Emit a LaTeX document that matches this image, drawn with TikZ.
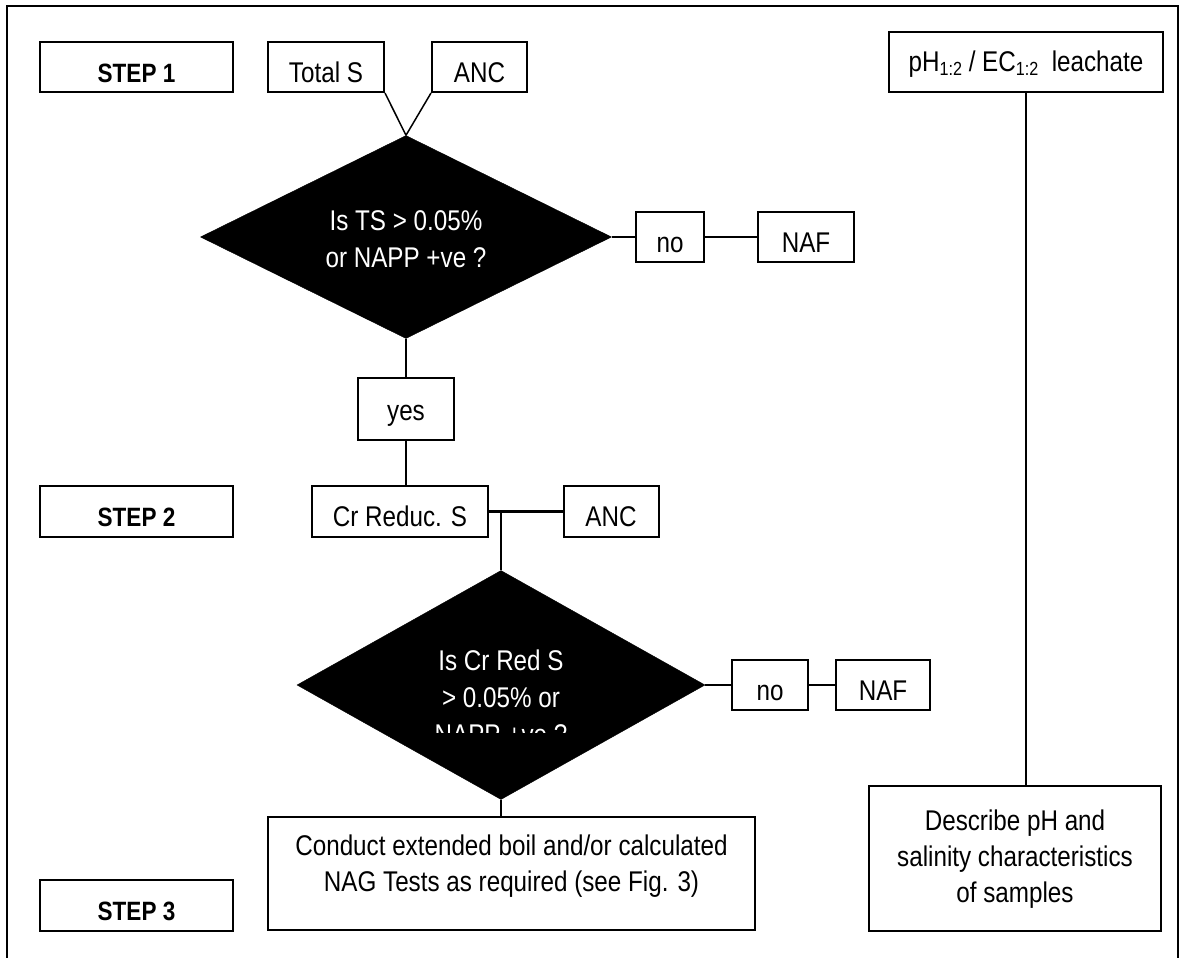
\documentclass[tikz,border=0pt]{standalone}
\usepackage{fontspec}
\setmainfont{Liberation Sans}[FakeStretch=0.85]
\usetikzlibrary{shapes.geometric}
\begin{document}
\begin{tikzpicture}[x=1pt,y=-1pt,
  box/.style={draw, line width=2pt, inner sep=0pt, text height=30pt, text depth=0pt,
    font=\fontsize{28.5}{30}\selectfont},
  stepbox/.style={box, font=\bfseries\fontsize{26.5}{30}\selectfont},
  tallbox/.style={draw, line width=2pt, inner sep=0pt},
  dia/.style={diamond, draw=black, fill=black, inner sep=0pt},
  dtext/.style={align=center, text=white, inner sep=0pt, font=\fontsize{28.5}{37}\selectfont},
  btext/.style={align=center, inner sep=0pt, font=\fontsize{28.5}{36}\selectfont},
  conn/.style={line width=2.5pt},
  thinconn/.style={line width=1.5pt}]
\useasboundingbox (0,0) rectangle (1181,958);
\draw[line width=2pt] (7,958) -- (7,6) -- (1178,6) -- (1178,958);

% step labels
\node[stepbox, minimum width=193pt, minimum height=50pt] (step1) at (136.5,67) {STEP 1};
\node[stepbox, minimum width=193pt, minimum height=51pt] (step2) at (136.5,511.5) {STEP 2};
\node[stepbox, minimum width=193pt, minimum height=51pt] (step3) at (136.5,905.5) {STEP 3};

% step 1
\node[box, minimum width=116pt, minimum height=50pt] (totals) at (326,67) {Total S};
\node[box, minimum width=95pt, minimum height=50pt] (anc1) at (479.5,67) {ANC};
\node[dia, minimum width=411pt, minimum height=203pt] (d1) at (406,237) {};
\node[dtext, anchor=center] (d1t) at (406,239) {Is TS > 0.05\%\\or NAPP +ve ?};
\node[box, minimum width=68pt, minimum height=50pt] (no1) at (670,237) {no};
\node[box, minimum width=96pt, minimum height=50pt] (naf1) at (806,237) {NAF};
\node[box, text height=22pt, minimum width=96pt, minimum height=62pt] (yes) at (406,409) {yes};

% step 2
\node[box, minimum width=176pt, minimum height=51pt] (cr) at (400,511.5) {Cr Reduc. S};
\node[box, minimum width=95pt, minimum height=51pt] (anc2) at (611,511.5) {ANC};
\node[dia, minimum width=408pt, minimum height=229pt] (d2) at (501,685) {};
\begin{scope}
\clip (297,560) rectangle (705,732);
\node[dtext, anchor=center] (d2t) at (501,697) {Is Cr Red S\\> 0.05\% or\\NAPP +ve ?};
\end{scope}
\node[box, minimum width=76pt, minimum height=50pt] (no2) at (770,685) {no};
\node[box, minimum width=94pt, minimum height=50pt] (naf2) at (883,685) {NAF};

% step 3
\node[tallbox, minimum width=487pt, minimum height=113pt] (conduct) at (511.5,873.5) {};
\node[btext] (conductt) at (511.5,866) {Conduct extended boil and/or calculated\\NAG Tests as required (see Fig. 3)};

% right column
\node[box, text height=20pt, minimum width=274pt, minimum height=60pt] (ph) at (1026,62)
  {pH{\fontsize{19}{19}\selectfont\raisebox{-3pt}{1:2}} / EC{\fontsize{19}{19}\selectfont\raisebox{-3pt}{1:2}}\ \ leachate};
\node[tallbox, minimum width=292pt, minimum height=145pt] (describe) at (1015,858.5) {};
\node[btext] (describet) at (1015,859) {Describe pH and\\salinity characteristics\\of samples};

% connectors
\draw[thinconn] (totals.south east) -- (d1.north);
\draw[thinconn] (anc1.south west) -- (d1.north);
\draw[conn] (d1.east) -- (no1.west);
\draw[conn] (no1.east) -- (naf1.west);
\draw[conn] (d1.south) -- (yes.north);
\draw[conn] (yes.south) -- (yes.south |- cr.north);
\draw[conn] (cr.east) -- (anc2.west);
\coordinate (j) at (d2.north |- cr.east);
\draw[conn] (j) -- (d2.north);
\draw[conn] (d2.east) -- (no2.west);
\draw[conn] (no2.east) -- (naf2.west);
\draw[conn] (d2.south) -- (d2.south |- conduct.north);
\draw[conn] (ph.south) -- (ph.south |- describe.north);
\end{tikzpicture}
\end{document}
